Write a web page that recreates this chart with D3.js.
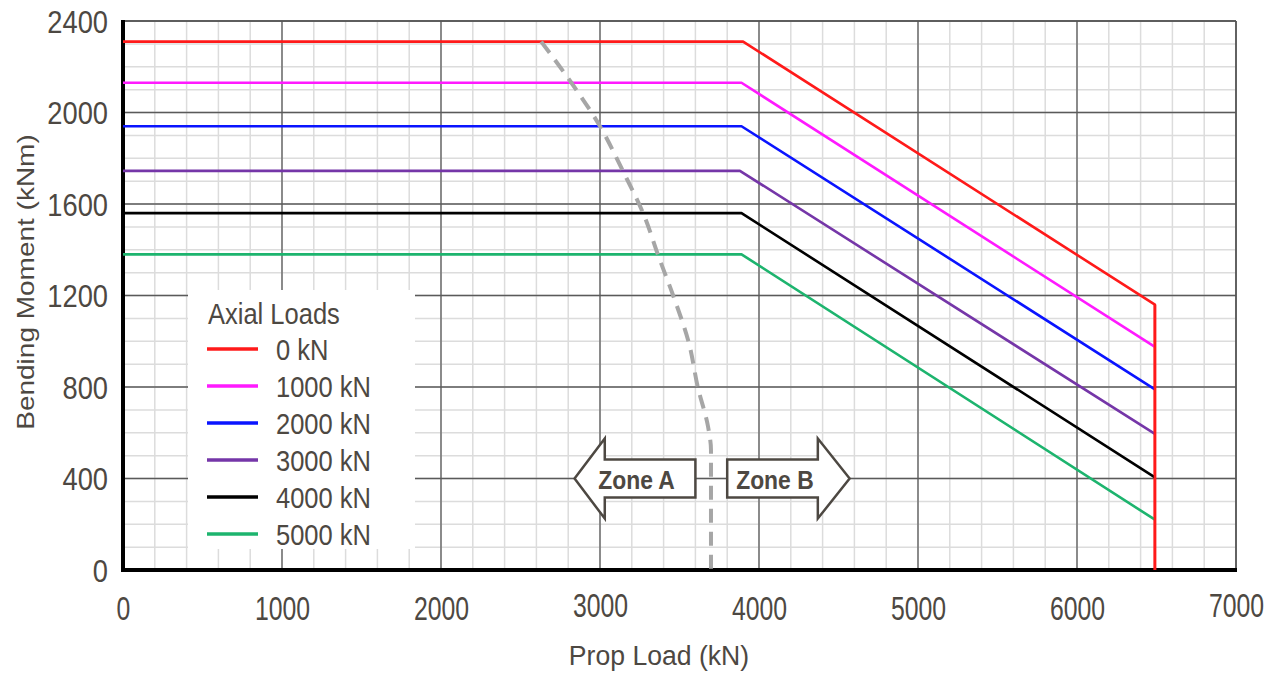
<!DOCTYPE html>
<html><head><meta charset="utf-8">
<script src="https://cdn.jsdelivr.net/npm/d3@7"></script>
<style>
html,body{margin:0;padding:0;background:#fff;}
svg{display:block;}
text{font-family:"Liberation Sans",Arial,sans-serif;fill:#4d4842;}
</style></head>
<body>
<svg id="chart" width="1272" height="673"></svg>
<script>
// ---------- data ----------
const xTickValues = [0,1000,2000,3000,4000,5000,6000,7000];
const yTickValues = [0,400,800,1200,1600,2000,2400];
const seriesNames = ["0 kN","1000 kN","2000 kN","3000 kN","4000 kN","5000 kN"];
const seriesColors = ["#ff1a1a","#ff1aff","#0a14ff","#7536a8","#000000","#1db46e"];
const plateauMoment = [2310,2130,1940,1745,1560,1380];
const kneeLoad = [3900,3890,3890,3880,3890,3890];
const endLoad = [6490,6490,6490,6490,6490,6490];
const endMoment = [1160,975,790,595,405,220];
const limitLoad = [2630,2820,3000,3140,3280,3365,3460,3560,3615,3680,3698,3698];
const limitMoment = [2310,2130,1940,1750,1545,1377,1200,990,800,625,525,0];
const zoneLabels = ["Zone A","Zone B"];

// ---------- setup ----------
const svg = d3.select("#chart");
const x = d3.scaleLinear().domain([0,7000]).range([123,1236]);
const y = d3.scaleLinear().domain([0,2400]).range([570,21]);

// minor grid
const minorX = d3.range(0,7001,200);
const minorY = d3.range(0,2401,100);
const g = svg.append("g");
g.selectAll(".mx").data(minorX).enter().append("line")
  .attr("x1",d=>x(d)).attr("x2",d=>x(d)).attr("y1",y(0)).attr("y2",y(2400))
  .attr("stroke","#dcdcdc").attr("stroke-width",1.5);
g.selectAll(".my").data(minorY).enter().append("line")
  .attr("y1",d=>y(d)).attr("y2",d=>y(d)).attr("x1",x(0)).attr("x2",x(7000))
  .attr("stroke","#dcdcdc").attr("stroke-width",1.5);
// major grid
g.selectAll(".Mx").data(xTickValues).enter().append("line")
  .attr("x1",d=>x(d)).attr("x2",d=>x(d)).attr("y1",y(0)).attr("y2",y(2400))
  .attr("stroke","#5a5a5a").attr("stroke-width",1.3);
g.selectAll(".My").data(yTickValues).enter().append("line")
  .attr("y1",d=>y(d)).attr("y2",d=>y(d)).attr("x1",x(0)).attr("x2",x(7000))
  .attr("stroke","#5a5a5a").attr("stroke-width",1.3);

// axes
const xAxis = d3.axisBottom(x).tickValues(xTickValues).tickSize(0).tickPadding(0).tickFormat(d3.format("d"));
const yAxis = d3.axisLeft(y).tickValues(yTickValues).tickSize(0).tickPadding(0).tickFormat(d3.format("d"));
const xa = svg.append("g").attr("transform",`translate(0,${y(0)})`).call(xAxis);
xa.select(".domain").remove();
xa.selectAll("text").attr("y",0).attr("dy",0)
  .attr("transform",d=>`translate(0,${(d===3000||d===7000)?47:50}) scale(0.8,1.05)`)
  .style("font-size","31px").style("fill","#4d4842");
const ya = svg.append("g").attr("transform",`translate(${x(0)},0)`).call(yAxis);
ya.select(".domain").remove();
ya.selectAll("text").attr("x",0).attr("dy",0)
  .attr("transform","translate(-15,11) scale(0.88,1)")
  .style("font-size","31px").style("text-anchor","end").style("fill","#4d4842");

// frame
svg.append("line").attr("x1",x(0)).attr("x2",x(7000)).attr("y1",y(2400)).attr("y2",y(2400)).attr("stroke","#555").attr("stroke-width",1.5);
svg.append("line").attr("x1",x(7000)).attr("x2",x(7000)).attr("y1",y(0)).attr("y2",y(2400)).attr("stroke","#555").attr("stroke-width",1.5);
svg.append("line").attr("x1",x(0)).attr("x2",x(7000)+1).attr("y1",y(0)).attr("y2",y(0)).attr("stroke","#000").attr("stroke-width",4);
svg.append("line").attr("x1",x(0)).attr("x2",x(0)).attr("y1",y(0)+2).attr("y2",y(2400)-1).attr("stroke","#000").attr("stroke-width",4);

// series lines
const line = d3.line().x(d=>x(d[0])).y(d=>y(d[1]));
seriesNames.forEach((n,i)=>{
  const pts = [[0,plateauMoment[i]],[kneeLoad[i],plateauMoment[i]],[endLoad[i],endMoment[i]]];
  if(i===0) pts.push([endLoad[i],0]);
  svg.append("path").attr("d",line(pts)).attr("fill","none")
    .attr("stroke",seriesColors[i]).attr("stroke-width",2.6).attr("stroke-linejoin","round");
});
// redraw red vertical on top
svg.append("path").attr("d",line([[endLoad[0],endMoment[0]],[endLoad[0],0]]))
  .attr("stroke",seriesColors[0]).attr("stroke-width",2.6);

// limit curve (dashed)
const limitPts = limitLoad.map((p,i)=>[p,limitMoment[i]]);
svg.append("path").attr("d",d3.line().x(d=>x(d[0])).y(d=>y(d[1])).curve(d3.curveMonotoneY)(limitPts))
  .attr("fill","none").attr("stroke","#a6a6a6").attr("stroke-width",4).attr("stroke-dasharray","14,9");

// legend
const lg = svg.append("g");
lg.append("rect").attr("x",188).attr("y",290).attr("width",227).attr("height",259).attr("fill","#fff");
lg.append("text").attr("transform","translate(208,324) scale(0.88,1)").style("font-size","29px").text("Axial Loads");
seriesNames.forEach((n,i)=>{
  const yy = 349 + i*37;
  lg.append("line").attr("x1",207).attr("x2",258).attr("y1",yy).attr("y2",yy)
    .attr("stroke",seriesColors[i]).attr("stroke-width",3.5);
  lg.append("text").attr("transform",`translate(276,${yy+11}) scale(0.88,1)`).style("font-size","29px").text(n);
});

// zone arrows
const yc = 400, bodyH = 83, headH = 175;
function arrowPath(tip, headBase, bodyEnd){
  return [[tip,yc],[headBase,yc+headH],[headBase,yc+bodyH],[bodyEnd,yc+bodyH],[bodyEnd,yc-bodyH],[headBase,yc-bodyH],[headBase,yc-headH]]
    .map(d=>[x(d[0]),y(d[1])]);
}
const arrows = [
  {label:zoneLabels[0], pts:arrowPath(2840,3030,3600), tx:3230},
  {label:zoneLabels[1], pts:arrowPath(4570,4370,3800), tx:4100},
];
arrows.forEach(a=>{
  svg.append("path").attr("d","M"+a.pts.join("L")+"Z").attr("fill","#fff")
    .attr("stroke","#4d4842").attr("stroke-width",2.5).attr("stroke-linejoin","miter");
  svg.append("text").attr("transform",`translate(${x(a.tx)},${y(yc)+10}) scale(0.88,1)`)
    .style("font-size","26px").style("font-weight","bold").style("text-anchor","middle").text(a.label);
});

// axis titles
svg.append("text").attr("transform","translate(659,665) scale(0.95,1)").style("font-size","28px")
  .style("text-anchor","middle").text("Prop Load (kN)");
svg.append("text").attr("transform","translate(34,282) rotate(-90) scale(1,0.88)").style("font-size","28px")
  .style("text-anchor","middle").text("Bending Moment (kNm)");
</script>
</body></html>
